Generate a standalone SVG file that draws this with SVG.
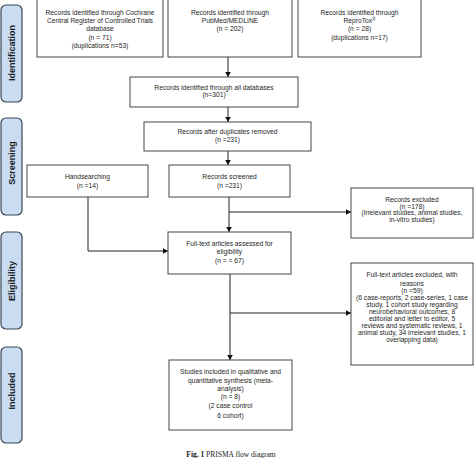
<svg xmlns="http://www.w3.org/2000/svg" width="474" height="458" viewBox="0 0 474 458">
<defs>
<marker id="arr" markerUnits="userSpaceOnUse" markerWidth="6" markerHeight="6" refX="5" refY="3" orient="auto">
<path d="M0,0.2 L5,3 L0,5.8 z" fill="#111"/>
</marker>
<style>
.box{fill:#fff;stroke:#444;stroke-width:1}
.side{fill:#c9dcf2;stroke:#3a4656;stroke-width:1.2}
.t{font-family:"Liberation Sans",Arial,sans-serif;font-size:6.7px;fill:#1e1e1e;text-anchor:middle}
.s{font-family:"Liberation Sans",Arial,sans-serif;font-size:9px;font-weight:bold;fill:#1a1a1a;text-anchor:middle}
.c{fill:none;stroke:#222;stroke-width:1}
</style>
</defs>
<rect width="474" height="458" fill="#fff"/>

<g id="side-identification"><rect class="side" x="1" y="5" width="21" height="97" rx="5"/><text class="s" transform="translate(15,53) rotate(-90)">Identification</text></g>
<g id="side-screening"><rect class="side" x="1" y="118" width="21" height="97" rx="5"/><text class="s" transform="translate(15,163) rotate(-90)">Screening</text></g>
<g id="side-eligibility"><rect class="side" x="1" y="232" width="21" height="97" rx="5"/><text class="s" transform="translate(15,281) rotate(-90)">Eligibility</text></g>
<g id="side-included"><rect class="side" x="1" y="347" width="21" height="96" rx="5"/><text class="s" transform="translate(15,391) rotate(-90)">Included</text></g>

<g id="connectors">
<path class="c" d="M228,57 V77" marker-end="url(#arr)"/>
<path class="c" d="M228,107 V122" marker-end="url(#arr)"/>
<path class="c" d="M228,151 V165" marker-end="url(#arr)"/>
<path class="c" d="M229,197 V232" marker-end="url(#arr)"/>
<path class="c" d="M229,212 H351" marker-end="url(#arr)"/>
<path class="c" d="M88,197 V251 H168" marker-end="url(#arr)"/>
<path class="c" d="M230,274 V360" marker-end="url(#arr)"/>
<path class="c" d="M230,313 H351" marker-end="url(#arr)"/>
</g>

<g id="cochrane"><rect class="box" x="37" y="-2" width="126" height="59"/>
<text class="t" x="100" y="14.6">Records identified through Cochrane</text>
<text class="t" x="100" y="23">Central Register of Controlled Trials</text>
<text class="t" x="100" y="31.3">database</text>
<text class="t" x="100" y="39.6">(n = 71)</text>
<text class="t" x="100" y="48">(duplications n=53)</text></g>

<g id="pubmed"><rect class="box" x="168" y="-2" width="124" height="59"/>
<text class="t" x="230" y="14.6">Records identified through</text>
<text class="t" x="230" y="23">PubMed/MEDLINE</text>
<text class="t" x="230" y="31.3">(n = 202)</text></g>

<g id="reprotox"><rect class="box" x="298" y="-2" width="123" height="59"/>
<text class="t" x="359.5" y="14.6">Records identified through</text>
<text class="t" x="359.5" y="23">ReproTox<tspan font-size="4.5" dy="-2">®</tspan></text>
<text class="t" x="359.5" y="31.3">(n = 28)</text>
<text class="t" x="359.5" y="39.6">(duplications n=17)</text></g>

<g id="all-db"><rect class="box" x="130" y="77" width="168" height="30"/>
<text class="t" x="214" y="89.8">Records identified through all databases</text>
<text class="t" x="214" y="96.8">(n=301)</text></g>

<g id="dedup"><rect class="box" x="144" y="122" width="167" height="29"/>
<text class="t" x="227.5" y="134">Records after duplicates removed</text>
<text class="t" x="227.5" y="142.3">(n =231)</text></g>

<g id="handsearching"><rect class="box" x="27" y="165" width="121" height="32"/>
<text class="t" x="87.5" y="178.6">Handsearching</text>
<text class="t" x="87.5" y="187.6">(n =14)</text></g>

<g id="screened"><rect class="box" x="169" y="165" width="121" height="32"/>
<text class="t" x="229.5" y="178.8">Records screened</text>
<text class="t" x="229.5" y="187.8">(n =231)</text></g>

<g id="excluded"><rect class="box" x="351" y="188" width="122" height="50"/>
<text class="t" x="412" y="201.6">Records excluded</text>
<text class="t" x="412" y="209">(n =178)</text>
<text class="t" x="412" y="215.2">(irrelevant studies, animal studies,</text>
<text class="t" x="412" y="221.6">in-vitro studies)</text></g>

<g id="fulltext"><rect class="box" x="168" y="232" width="123" height="42"/>
<text class="t" x="229.5" y="245.6">Full-text articles assessed for</text>
<text class="t" x="229.5" y="254">eligibility</text>
<text class="t" x="229.5" y="263">(n = = 67)</text></g>

<g id="fulltext-excluded"><rect class="box" x="351" y="263" width="122" height="102"/>
<text class="t" x="412" y="277.3">Full-text articles excluded, with</text>
<text class="t" x="412" y="285.6">reasons</text>
<text class="t" x="412" y="293">(n =59)</text>
<text class="t" x="412" y="299.6">(6 case-reports, 2 case-series, 1 case</text>
<text class="t" x="412" y="306.6">study, 1 cohort study regarding</text>
<text class="t" x="412" y="313.6">neurobehavioral outcomes, 8</text>
<text class="t" x="412" y="321">editorial and letter to editor, 5</text>
<text class="t" x="412" y="328">reviews and systematic reviews, 1</text>
<text class="t" x="412" y="335">animal study, 34 irrelevant studies, 1</text>
<text class="t" x="412" y="342.3">overlapping data)</text></g>

<g id="included"><rect class="box" x="169" y="360" width="123" height="70"/>
<text class="t" x="230.5" y="374">Studies included in qualitative and</text>
<text class="t" x="230.5" y="383.3">quantitative synthesis (meta-</text>
<text class="t" x="230.5" y="391.3">analysis)</text>
<text class="t" x="230.5" y="399">(n = 8)</text>
<text class="t" x="230.5" y="408.3">(2 case control</text>
<text class="t" x="230.5" y="417.6">6  cohort)</text></g>

<text x="231" y="456.5" font-family="'Liberation Serif','Times New Roman',serif" font-size="7.5" fill="#222" text-anchor="middle"><tspan font-weight="bold">Fig. 1</tspan>  PRISMA flow diagram</text>
</svg>
